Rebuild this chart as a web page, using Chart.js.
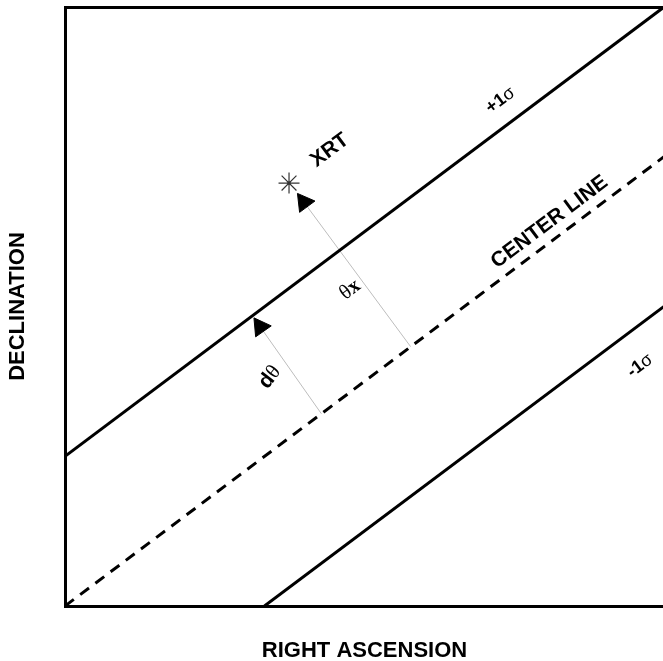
<!DOCTYPE html>
<html>
<head>
<meta charset="utf-8">
<script src="https://cdn.jsdelivr.net/npm/chart.js@4/dist/chart.umd.min.js"></script>
<style>
  html, body { margin: 0; padding: 0; background: #fff; overflow: hidden; }
  #wrap { width: 664px; height: 661px; }
</style>
</head>
<body>
<div id="wrap"><canvas id="c" width="664" height="661"></canvas></div>
<script>
// Error-box geometry in normalised sky coordinates (RA and Dec both run 0..1)
const plusSigma  = [{x: 0, y: 0.25}, {x: 1, y: 1.0}];
const centerLine = [{x: 0, y: 0},    {x: 1, y: 0.75}];
const minusSigma = [{x: 0.333, y: 0}, {x: 1, y: 0.5}];
const xrtSource  = [{x: 0.374, y: 0.706}];
// Offset arrows: foot on the centre line, head at the target
const thetaXArrow = [{x: 0.577, y: 0.433}, {x: 0.399, y: 0.674}];
const dThetaArrow = [{x: 0.428, y: 0.321}, {x: 0.326, y: 0.466}];

const SANS = '"Liberation Sans", Arial, sans-serif';
const SERIF = '"Liberation Serif", "Times New Roman", serif';

// Angle (degrees) of the centre line as drawn on screen
function lineAngle(chart) {
  const xs = chart.scales.x, ys = chart.scales.y;
  const a = centerLine[0], b = centerLine[1];
  return Math.atan2(ys.getPixelForValue(b.y) - ys.getPixelForValue(a.y),
                    xs.getPixelForValue(b.x) - xs.getPixelForValue(a.x)) * 180 / Math.PI;
}

// Rotate the triangle head so it points from the arrow's foot to its head
function headRotation(ctx) {
  const d = ctx.dataset.data, xs = ctx.chart.scales.x, ys = ctx.chart.scales.y;
  const dx = xs.getPixelForValue(d[1].x) - xs.getPixelForValue(d[0].x);
  const dy = ys.getPixelForValue(d[1].y) - ys.getPixelForValue(d[0].y);
  return Math.atan2(dx, -dy) * 180 / Math.PI;
}

function arrowDataset(data) {
  return {
    data: data,
    showLine: true,
    borderColor: '#bdbdbd',
    borderWidth: 1,
    pointStyle: 'triangle',
    pointRadius: ctx => ctx.dataIndex === 1 ? 11 : 0,
    pointRotation: headRotation,
    pointBackgroundColor: '#000',
    pointBorderColor: '#000',
    pointBorderWidth: 1
  };
}

// Annotations placed in data coordinates; angle null = follow the centre line
const annotations = [
  {x: 0.442, y: 0.761, angle: null, parts: [['XRT', 'bold 21px ' + SANS]]},
  {x: 0.727, y: 0.844, angle: null, parts: [['+1', 'bold 18px ' + SANS], ['σ', '18px ' + SANS]]},
  {x: 0.809, y: 0.641, angle: null, parts: [['CENTER LINE', 'bold 21px ' + SANS]]},
  {x: 0.960, y: 0.401, angle: null, parts: [['-1', 'bold 18px ' + SANS], ['σ', '18px ' + SANS]]},
  {x: 0.476, y: 0.528, angle: null, parts: [['θ', '21px ' + SERIF], ['x', 'bold 21px ' + SERIF]]},
  {x: 0.342, y: 0.382, angle: -52, parts: [['d', 'bold 21px ' + SANS], ['θ', '21px ' + SERIF]]}
];

const annotationPlugin = {
  id: 'annotationText',
  afterDatasetsDraw(chart) {
    const ctx = chart.ctx, xs = chart.scales.x, ys = chart.scales.y;
    const base = lineAngle(chart);
    annotations.forEach(a => {
      ctx.save();
      ctx.translate(xs.getPixelForValue(a.x), ys.getPixelForValue(a.y));
      ctx.rotate((a.angle === null ? base : a.angle) * Math.PI / 180);
      ctx.fillStyle = '#000';
      ctx.textBaseline = 'middle';
      ctx.textAlign = 'left';
      let total = 0;
      const widths = a.parts.map(p => { ctx.font = p[1]; const w = ctx.measureText(p[0]).width; total += w; return w; });
      let cx = -total / 2;
      a.parts.forEach((p, i) => { ctx.font = p[1]; ctx.fillText(p[0], cx, 0); cx += widths[i]; });
      ctx.restore();
    });
  }
};

const hiddenTicks = {display: false};
const frameBorder = {display: true, color: '#000', width: 3};

new Chart(document.getElementById('c'), {
  type: 'scatter',
  data: {
    datasets: [
      {data: plusSigma, showLine: true, borderColor: '#000', borderWidth: 3, pointRadius: 0},
      {data: centerLine, showLine: true, borderColor: '#000', borderWidth: 3, borderDash: [11, 8], pointRadius: 0},
      {data: minusSigma, showLine: true, borderColor: '#000', borderWidth: 3, pointRadius: 0},
      arrowDataset(thetaXArrow),
      arrowDataset(dThetaArrow),
      {data: xrtSource, pointStyle: 'star', pointRadius: 10.5, borderColor: '#333', pointBorderWidth: 1.2, backgroundColor: 'transparent'},
      {data: xrtSource, pointStyle: 'circle', pointRadius: 1.5, borderColor: '#222', backgroundColor: '#222', pointBorderWidth: 0}
    ]
  },
  options: {
    responsive: false,
    animation: false,
    events: [],
    layout: {padding: 0, autoPadding: false},
    plugins: {legend: {display: false}, tooltip: {enabled: false}},
    scales: {
      x: {
        type: 'linear', position: 'bottom', min: 0, max: 1,
        ticks: hiddenTicks, grid: {display: false}, border: frameBorder,
        title: {display: true, text: 'RIGHT ASCENSION', color: '#000',
                font: {family: SANS, weight: 'bold', size: 22, lineHeight: 1}, padding: {top: 0, bottom: -0.5}},
        afterFit: s => { s.height = 55; }
      },
      xTop: {
        type: 'linear', position: 'top', min: 0, max: 1,
        ticks: hiddenTicks, grid: {display: false}, border: frameBorder,
        afterFit: s => { s.height = 7; }
      },
      y: {
        type: 'linear', position: 'left', min: 0, max: 1,
        ticks: hiddenTicks, grid: {display: false}, border: frameBorder,
        title: {display: true, text: 'DECLINATION', color: '#000',
                font: {family: SANS, weight: 'bold', size: 22, lineHeight: 1}, padding: {top: 7, bottom: 0}},
        afterFit: s => { s.width = 65; }
      }
    }
  },
  plugins: [annotationPlugin]
});
</script>
</body>
</html>
